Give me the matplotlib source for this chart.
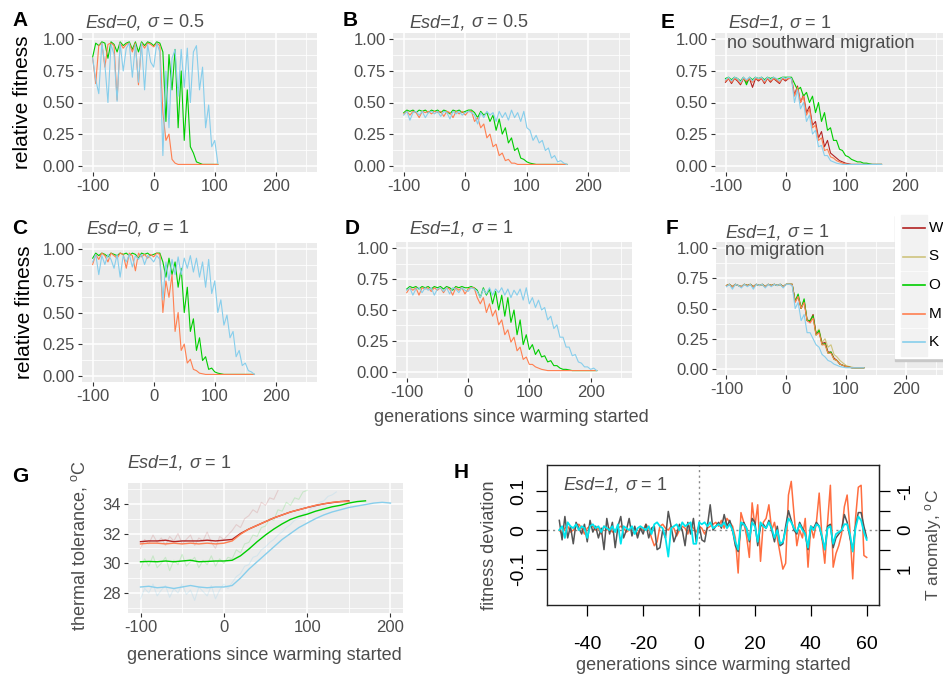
import numpy as np
import matplotlib
matplotlib.use("Agg")
import matplotlib.pyplot as plt
from matplotlib.patches import Rectangle

plt.rcParams["font.family"] = ["Liberation Sans", "DejaVu Sans"]
plt.rcParams["mathtext.fontset"] = "custom"
plt.rcParams["mathtext.rm"] = "Liberation Sans"
plt.rcParams["mathtext.it"] = "Liberation Sans:italic"
plt.rcParams["mathtext.bf"] = "Liberation Sans:bold"
plt.rcParams["axes.unicode_minus"] = False

# colours of the five populations
leg_labels = ["W", "S", "O", "M", "K"]
col_w = "#B22222"
col_s = "#CFC47E"
col_o = "#00CD00"
col_m = "#FF7F50"
col_k = "#87CEEB"
leg_colors = [col_w, col_s, col_o, col_m, col_k]

# ---------------- panel A (Esd=0, sigma=0.5), every 5 generations from -100
a_gen = np.arange(-100, 110, 5)
a_k = [0.85, 0.68, 0.57, 0.97, 0.80, 0.50, 0.96, 0.88, 0.51, 0.97,
       0.75, 0.93, 0.97, 0.70, 0.96, 0.66, 0.97, 0.60, 0.96, 0.82,
       0.78, 0.97, 0.90, 0.08, 0.75, 0.30, 0.85, 0.92, 0.55, 0.92,
       0.62, 0.93, 0.50, 0.90, 0.95, 0.60, 0.78, 0.30, 0.48, 0.15,
       0.20, 0.02]
a_o = [0.86, 0.97, 0.95, 0.98, 0.97, 0.85, 0.98, 0.96, 0.90, 0.98,
       0.95, 0.97, 0.98, 0.92, 0.98, 0.90, 0.98, 0.95, 0.98, 0.97,
       0.95, 0.98, 0.97, 0.90, 0.35, 0.88, 0.60, 0.92, 0.30, 0.75,
       0.20, 0.60, 0.15, 0.10, 0.03, 0.02, 0.01, 0.01, 0.01, 0.01,
       0.01, 0.01]
a_m = [0.85, 0.65, 0.95, 0.97, 0.78, 0.96, 0.97, 0.95, 0.52, 0.97,
       0.93, 0.96, 0.97, 0.90, 0.97, 0.64, 0.97, 0.93, 0.97, 0.96,
       0.94, 0.97, 0.95, 0.42, 0.20, 0.25, 0.05, 0.02, 0.01, 0.01,
       0.01, 0.01, 0.01, 0.01, 0.01, 0.01, 0.01, 0.01, 0.01, 0.01,
       0.01, 0.01]

# ---------------- panel B (Esd=1, sigma=0.5)
b_gen = np.arange(-100, 170, 5)
b_k = [0.40, 0.43, 0.36, 0.42, 0.43, 0.40, 0.43, 0.38, 0.42, 0.43,
       0.41, 0.43, 0.39, 0.43, 0.42, 0.37, 0.43, 0.41, 0.43, 0.40,
       0.42, 0.43, 0.42, 0.40, 0.33, 0.42, 0.38, 0.43, 0.40, 0.42,
       0.35, 0.43, 0.38, 0.42, 0.36, 0.44, 0.38, 0.42, 0.35, 0.43,
       0.30, 0.28, 0.20, 0.24, 0.18, 0.20, 0.12, 0.14, 0.06, 0.08,
       0.03, 0.04, 0.02, 0.01]
b_o = [0.42, 0.44, 0.43, 0.44, 0.42, 0.44, 0.43, 0.44, 0.42, 0.44,
       0.43, 0.44, 0.42, 0.44, 0.43, 0.41, 0.44, 0.43, 0.44, 0.42,
       0.43, 0.44, 0.44, 0.42, 0.38, 0.43, 0.40, 0.42, 0.35, 0.40,
       0.28, 0.37, 0.25, 0.30, 0.18, 0.22, 0.12, 0.14, 0.06, 0.05,
       0.03, 0.02, 0.015, 0.01, 0.01, 0.01, 0.01, 0.01, 0.01, 0.01,
       0.01, 0.01, 0.01, 0.01]
b_m = [0.41, 0.43, 0.40, 0.43, 0.42, 0.38, 0.43, 0.42, 0.43, 0.41,
       0.43, 0.42, 0.43, 0.39, 0.43, 0.42, 0.38, 0.43, 0.41, 0.43,
       0.40, 0.43, 0.43, 0.35, 0.38, 0.30, 0.33, 0.22, 0.25, 0.15,
       0.17, 0.08, 0.10, 0.04, 0.05, 0.02, 0.02, 0.01, 0.01, 0.01,
       0.01, 0.01, 0.01, 0.01, 0.01, 0.01, 0.01, 0.01, 0.01, 0.01,
       0.01, 0.01, 0.01, 0.01]

# ---------------- panel C (Esd=0, sigma=1)
c_gen = np.arange(-100, 170, 5)
c_k = [0.90, 0.96, 0.80, 0.95, 0.88, 0.96, 0.92, 0.85, 0.96, 0.78,
       0.95, 0.90, 0.96, 0.86, 0.95, 0.92, 0.96, 0.88, 0.95, 0.93,
       0.90, 0.95, 0.92, 0.60, 0.90, 0.75, 0.92, 0.80, 0.94, 0.80,
       0.93, 0.85, 0.95, 0.82, 0.93, 0.78, 0.90, 0.70, 0.92, 0.65,
       0.75, 0.50, 0.60, 0.40, 0.48, 0.30, 0.35, 0.15, 0.20, 0.08,
       0.10, 0.04, 0.03, 0.01]
c_o = [0.93, 0.97, 0.95, 0.97, 0.96, 0.94, 0.97, 0.96, 0.95, 0.97,
       0.96, 0.97, 0.95, 0.97, 0.96, 0.93, 0.97, 0.96, 0.97, 0.95,
       0.96, 0.97, 0.97, 0.90, 0.78, 0.93, 0.80, 0.90, 0.70, 0.85,
       0.50, 0.70, 0.35, 0.45, 0.20, 0.30, 0.12, 0.15, 0.05, 0.06,
       0.03, 0.02, 0.015, 0.01, 0.01, 0.01, 0.01, 0.01, 0.01, 0.01,
       0.01, 0.01, 0.01, 0.01]
c_m = [0.88, 0.96, 0.92, 0.97, 0.95, 0.90, 0.97, 0.95, 0.93, 0.97,
       0.96, 0.85, 0.97, 0.95, 0.83, 0.97, 0.94, 0.96, 0.93, 0.96,
       0.94, 0.97, 0.96, 0.50, 0.75, 0.62, 0.80, 0.35, 0.50, 0.20,
       0.25, 0.10, 0.13, 0.05, 0.04, 0.02, 0.015, 0.01, 0.01, 0.01,
       0.01, 0.01, 0.01, 0.01, 0.01, 0.01, 0.01, 0.01, 0.01, 0.01,
       0.01, 0.01, 0.01, 0.01]

# ---------------- panel D (Esd=1, sigma=1)
d_gen = np.arange(-100, 215, 5)
d_k = [0.66, 0.68, 0.62, 0.67, 0.68, 0.64, 0.68, 0.66, 0.68, 0.62,
       0.67, 0.68, 0.65, 0.68, 0.63, 0.68, 0.67, 0.64, 0.68, 0.66,
       0.65, 0.68, 0.67, 0.65, 0.60, 0.67, 0.63, 0.68, 0.62, 0.67,
       0.64, 0.68, 0.62, 0.67, 0.60, 0.66, 0.62, 0.67, 0.58, 0.68,
       0.55, 0.60, 0.52, 0.58, 0.50, 0.52, 0.42, 0.45, 0.35, 0.38,
       0.28, 0.28, 0.20, 0.20, 0.13, 0.14, 0.08, 0.07, 0.04, 0.04,
       0.02, 0.03, 0.01]
d_o = [0.67, 0.69, 0.68, 0.69, 0.67, 0.69, 0.68, 0.69, 0.67, 0.69,
       0.68, 0.69, 0.67, 0.69, 0.68, 0.66, 0.69, 0.68, 0.69, 0.68,
       0.68, 0.69, 0.68, 0.66, 0.60, 0.68, 0.62, 0.67, 0.55, 0.65,
       0.50, 0.62, 0.45, 0.60, 0.40, 0.50, 0.30, 0.42, 0.22, 0.30,
       0.18, 0.22, 0.14, 0.18, 0.12, 0.13, 0.08, 0.09, 0.05, 0.05,
       0.03, 0.02, 0.02, 0.015, 0.01, 0.01, 0.01, 0.01, 0.01, 0.01,
       0.01, 0.01, 0.01]
d_m = [0.64, 0.68, 0.66, 0.68, 0.62, 0.68, 0.67, 0.68, 0.65, 0.68,
       0.66, 0.68, 0.64, 0.68, 0.67, 0.62, 0.68, 0.66, 0.68, 0.63,
       0.67, 0.68, 0.68, 0.60, 0.55, 0.60, 0.48, 0.55, 0.45, 0.50,
       0.38, 0.42, 0.30, 0.34, 0.24, 0.28, 0.17, 0.20, 0.10, 0.12,
       0.06, 0.06, 0.04, 0.03, 0.02, 0.015, 0.01, 0.01, 0.01, 0.01,
       0.01, 0.01, 0.01, 0.01, 0.01, 0.01, 0.01, 0.01, 0.01, 0.01,
       0.01, 0.01, 0.01]

# ---------------- panel E (no southward migration)
e_gen = np.arange(-100, 165, 5)
e_k = [0.68, 0.70, 0.67, 0.70, 0.69, 0.66, 0.70, 0.68, 0.70, 0.67,
       0.70, 0.69, 0.70, 0.67, 0.70, 0.68, 0.70, 0.69, 0.67, 0.70,
       0.69, 0.70, 0.69, 0.50, 0.60, 0.45, 0.50, 0.35, 0.40, 0.25,
       0.28, 0.15, 0.16, 0.08, 0.08, 0.04, 0.03, 0.02, 0.015, 0.01,
       0.01, 0.01, 0.01, 0.01, 0.01, 0.01, 0.01, 0.01, 0.01, 0.01,
       0.01, 0.01, 0.01]
e_m = [0.67, 0.69, 0.66, 0.69, 0.68, 0.65, 0.69, 0.67, 0.69, 0.66,
       0.69, 0.68, 0.69, 0.66, 0.69, 0.67, 0.69, 0.68, 0.66, 0.69,
       0.68, 0.69, 0.69, 0.55, 0.62, 0.50, 0.55, 0.40, 0.45, 0.30,
       0.32, 0.20, 0.22, 0.12, 0.13, 0.07, 0.06, 0.04, 0.03, 0.02,
       0.015, 0.01, 0.01, 0.01, 0.01, 0.01, 0.01, 0.01, 0.01, 0.01,
       0.01, 0.01, 0.01]
e_w = [0.66, 0.69, 0.65, 0.69, 0.67, 0.64, 0.69, 0.66, 0.69, 0.62,
       0.69, 0.67, 0.69, 0.65, 0.69, 0.66, 0.69, 0.67, 0.65, 0.69,
       0.67, 0.69, 0.69, 0.56, 0.63, 0.50, 0.56, 0.42, 0.47, 0.32,
       0.35, 0.22, 0.27, 0.15, 0.20, 0.10, 0.08, 0.06, 0.04, 0.03,
       0.02, 0.015, 0.01, 0.01, 0.01, 0.01, 0.01, 0.01, 0.01, 0.01,
       0.01, 0.01, 0.01]
e_o = [0.69, 0.70, 0.68, 0.70, 0.69, 0.67, 0.70, 0.64, 0.70, 0.68,
       0.70, 0.69, 0.70, 0.68, 0.70, 0.69, 0.70, 0.68, 0.69, 0.70,
       0.70, 0.70, 0.70, 0.65, 0.60, 0.62, 0.55, 0.58, 0.50, 0.55,
       0.42, 0.50, 0.35, 0.42, 0.28, 0.30, 0.20, 0.20, 0.13, 0.12,
       0.08, 0.07, 0.05, 0.04, 0.03, 0.03, 0.02, 0.02, 0.015, 0.01,
       0.01, 0.01, 0.01]

# ---------------- panel F (no migration)
f_gen = np.arange(-100, 135, 5)
f_k = [0.68, 0.70, 0.66, 0.70, 0.69, 0.67, 0.70, 0.68, 0.70, 0.66,
       0.70, 0.69, 0.70, 0.67, 0.70, 0.68, 0.70, 0.69, 0.70, 0.67,
       0.70, 0.70, 0.69, 0.50, 0.55, 0.40, 0.45, 0.30, 0.30, 0.25,
       0.20, 0.18, 0.12, 0.10, 0.07, 0.06, 0.04, 0.03, 0.02, 0.015,
       0.01, 0.01, 0.01, 0.01, 0.01, 0.01, 0.01]
f_m = [0.69, 0.70, 0.68, 0.70, 0.69, 0.68, 0.70, 0.69, 0.70, 0.68,
       0.70, 0.69, 0.70, 0.68, 0.70, 0.69, 0.70, 0.69, 0.70, 0.68,
       0.70, 0.70, 0.70, 0.55, 0.60, 0.50, 0.55, 0.40, 0.38, 0.42,
       0.28, 0.30, 0.20, 0.20, 0.13, 0.13, 0.08, 0.07, 0.04, 0.03,
       0.02, 0.015, 0.01, 0.01, 0.01, 0.01, 0.01]
f_o = [0.69, 0.70, 0.68, 0.70, 0.69, 0.68, 0.70, 0.69, 0.70, 0.68,
       0.70, 0.69, 0.70, 0.68, 0.70, 0.69, 0.70, 0.69, 0.70, 0.68,
       0.70, 0.70, 0.70, 0.56, 0.62, 0.50, 0.58, 0.40, 0.40, 0.44,
       0.28, 0.32, 0.20, 0.21, 0.13, 0.14, 0.08, 0.07, 0.04, 0.03,
       0.02, 0.015, 0.01, 0.01, 0.01, 0.01, 0.01]
f_w = [0.69, 0.70, 0.68, 0.70, 0.69, 0.68, 0.70, 0.69, 0.70, 0.68,
       0.70, 0.69, 0.70, 0.68, 0.70, 0.69, 0.70, 0.69, 0.70, 0.68,
       0.70, 0.70, 0.70, 0.56, 0.60, 0.50, 0.56, 0.40, 0.39, 0.45,
       0.29, 0.31, 0.21, 0.22, 0.14, 0.14, 0.09, 0.07, 0.04, 0.03,
       0.02, 0.015, 0.01, 0.01, 0.01, 0.01, 0.01]
f_s = [0.69, 0.70, 0.68, 0.70, 0.69, 0.68, 0.70, 0.69, 0.70, 0.68,
       0.70, 0.69, 0.70, 0.68, 0.70, 0.69, 0.70, 0.69, 0.70, 0.68,
       0.70, 0.70, 0.70, 0.56, 0.61, 0.50, 0.57, 0.41, 0.40, 0.45,
       0.30, 0.33, 0.22, 0.25, 0.18, 0.20, 0.12, 0.10, 0.07, 0.05,
       0.03, 0.02, 0.015, 0.01, 0.01, 0.01, 0.01]

# ---------------- panel G (thermal tolerance), means every 10 generations
g_gen_w = np.arange(-100, 160, 10)
g_w = [31.45, 31.5, 31.5, 31.55, 31.45, 31.5, 31.5, 31.5, 31.55, 31.5,
       31.55, 31.6, 32.0, 32.3, 32.55, 32.8, 33.05, 33.25, 33.45, 33.6,
       33.75, 33.88, 34.0, 34.08, 34.15, 34.2]
g_m = [31.3, 31.35, 31.35, 31.3, 31.35, 31.3, 31.35, 31.3, 31.35, 31.3,
       31.35, 31.5, 31.95, 32.3, 32.55, 32.8, 33.05, 33.25, 33.45, 33.6,
       33.75, 33.9, 34.0, 34.1, 34.15, 34.15]
g_gen_o = np.arange(-100, 180, 10)
g_o = [30.1, 30.12, 30.1, 30.15, 30.1, 30.15, 30.2, 30.1, 30.12, 30.15,
       30.15, 30.2, 30.5, 30.95, 31.45, 31.9, 32.3, 32.65, 32.95, 33.15,
       33.3, 33.5, 33.65, 33.8, 33.9, 34.05, 34.15, 34.2]
g_gen_k = np.arange(-100, 210, 10)
g_k = [28.4, 28.45, 28.35, 28.4, 28.3, 28.4, 28.5, 28.4, 28.35, 28.4,
       28.4, 28.5, 29.0, 29.6, 30.1, 30.6, 31.1, 31.6, 32.0, 32.4,
       32.7, 33.0, 33.25, 33.45, 33.6, 33.75, 33.85, 33.95, 34.05, 34.1,
       34.05]
# faint single runs, every 5 generations
g_gen_fw = np.arange(-100, 70, 5)
g_fw = [31.0, 31.6, 31.3, 31.9, 31.4, 31.7, 31.2, 31.8, 31.5, 32.0,
        31.3, 31.6, 31.9, 31.2, 31.7, 31.5, 32.1, 31.4, 31.0, 31.8,
        31.6, 31.9, 32.2, 32.6, 32.4, 33.0, 33.2, 33.6, 33.4, 34.1,
        33.9, 34.4, 34.3, 34.9]
g_gen_fo = np.arange(-100, 105, 5)
g_fo = [29.6, 30.3, 29.8, 30.5, 29.7, 30.0, 30.4, 29.5, 30.2, 29.9,
        30.6, 29.8, 30.1, 30.4, 29.7, 30.2, 29.9, 30.5, 29.8, 30.3,
        30.0, 30.4, 30.3, 30.9, 30.7, 31.3, 31.4, 31.9, 31.8, 32.4,
        32.5, 33.0, 32.9, 33.6, 33.5, 34.1, 33.9, 34.4, 34.3, 34.8,
        34.9]
g_gen_fk = np.arange(-100, 140, 5)
g_fk = [27.6, 28.3, 28.0, 28.6, 27.8, 28.2, 28.5, 27.7, 28.3, 28.0,
        28.6, 27.9, 28.2, 27.5, 28.4, 28.1, 27.8, 28.5, 27.6, 28.2,
        28.6, 28.3, 28.7, 29.1, 29.3, 29.8, 29.9, 30.4, 30.5, 30.9,
        31.1, 31.4, 31.6, 31.9, 32.1, 32.4, 32.6, 32.9, 33.0, 33.3,
        33.4, 33.7, 33.8, 34.1, 34.2, 34.5, 34.6, 34.8]

# ---------------- panel H (deviations, every generation from -50 to 60)
h_gen = np.arange(-50, 61)
h_ticks = [-40, -20, 0, 20, 40, 60]
h_t = [0.025, -0.025, 0.035, -0.02, 0.01, -0.035, 0.02, 0.005, -0.01, 0.015,
       -0.03, 0.025, -0.005, 0.01, -0.02, 0.005, -0.05, 0.03, -0.01, 0.02,
       -0.045, 0.01, 0.035, -0.02, 0.0, 0.03, -0.015, 0.01, -0.02, 0.005,
       -0.01, 0.015, -0.02, 0.005, 0.01, -0.05, -0.045, 0.0, -0.02, 0.048,
       0.01, -0.03, -0.01, 0.015, 0.0, -0.04, 0.02, -0.01, 0.03, -0.03,
       0.015, -0.025, -0.03, 0.01, 0.065, 0.0, 0.01, 0.02, 0.005, 0.04,
       0.01, 0.025, 0.0, -0.04, -0.055, 0.01, 0.02, 0.005, -0.03, 0.03,
       0.02, -0.04, 0.01, 0.015, 0.005, 0.025, 0.0, -0.03, 0.01, -0.04,
       -0.035, 0.01, 0.05, 0.025, 0.0, -0.01, 0.02, 0.005, -0.01, -0.05,
       0.01, 0.005, 0.02, 0.01, -0.02, -0.05, 0.01, 0.015, -0.045, -0.02,
       -0.01, 0.0, 0.04, 0.02, -0.02, -0.05, 0.01, 0.045, 0.045, 0.01,
       -0.02]
h_o = [0.0, -0.01, 0.005, 0.01, -0.005, 0.0, 0.01, 0.015, 0.005, -0.01,
       0.005, 0.01, 0.01, 0.0, 0.005, -0.01, 0.01, 0.0, 0.005, -0.005,
       0.0, 0.005, 0.01, 0.005, -0.005, 0.0, 0.005, 0.0, -0.01, 0.005,
       0.0, 0.015, 0.005, -0.02, -0.04, -0.03, 0.01, 0.015, 0.005, 0.0,
       0.01, 0.005, -0.015, 0.0, 0.01, 0.005, -0.01, 0.015, 0.005, -0.005,
       0.01, 0.005, -0.01, 0.005, 0.01, 0.015, 0.02, 0.01, 0.025, 0.005,
       0.03, 0.02, 0.01, -0.02, -0.11, 0.045, 0.02, -0.015, -0.07, 0.07,
       0.01, 0.065, -0.08, 0.02, 0.03, 0.065, 0.0, 0.02, -0.02, -0.06,
       -0.1, -0.085, 0.09, 0.125, 0.04, -0.04, 0.0, -0.02, 0.03, -0.095,
       0.01, -0.02, 0.02, 0.095, -0.02, -0.085, 0.02, 0.115, -0.095, -0.06,
       -0.04, -0.01, 0.06, 0.09, 0.0, -0.125, 0.03, 0.11, 0.115, -0.065,
       -0.07]
h_k = [0.0, 0.01, -0.02, 0.02, 0.01, 0.005, 0.015, 0.0, 0.01, 0.005,
       -0.02, 0.01, 0.015, 0.005, 0.01, -0.005, 0.01, 0.005, 0.0, 0.01,
       -0.005, 0.015, -0.035, 0.01, 0.005, 0.0, 0.01, -0.01, 0.005, 0.01,
       0.005, 0.0, 0.01, -0.01, 0.015, 0.02, 0.01, 0.005, -0.02, -0.068,
       0.005, 0.01, 0.015, 0.0, 0.02, 0.01, 0.015, 0.02, -0.035, -0.035,
       0.02, 0.015, 0.02, 0.01, 0.02, 0.005, 0.01, 0.015, 0.01, 0.02,
       0.005, 0.015, 0.0, -0.03, -0.05, 0.02, 0.015, 0.005, -0.025, 0.02,
       0.01, -0.03, 0.02, 0.01, 0.005, 0.02, 0.005, -0.02, 0.0, -0.035,
       -0.03, 0.0, 0.03, 0.02, 0.005, -0.005, 0.015, 0.0, -0.01, -0.045,
       0.01, 0.0, 0.015, 0.01, -0.015, -0.05, 0.005, 0.01, -0.035, -0.01,
       -0.005, 0.0, 0.015, 0.015, -0.01, -0.055, 0.005, 0.035, 0.025, -0.005,
       -0.025]

W, H = 943, 677
fig = plt.figure(figsize=(W / 100, H / 100), dpi=100)
renderer = fig.canvas.get_renderer()
TXT = "#4D4D4D"


def rect(x0, y0, x1, y1):
    return [x0 / W, 1 - y1 / H, (x1 - x0) / W, (y1 - y0) / H]


def ftext(px, py, s, **kw):
    kw.setdefault("va", "center")
    return fig.text(px / W, 1 - py / H, s, **kw)


def esd_title(px, py, esd, sigma, size=13):
    # italic "Esd=x," followed by "σ = y"
    t = ftext(px, py, "Esd=%s," % esd, fontsize=size, color=TXT, ha="left",
              style="italic", va="baseline")
    bb = t.get_window_extent(renderer)
    fig.text(bb.x1 / W, 1 - py / H, r" $\sigma$ = %s" % sigma, fontsize=size,
             color=TXT, ha="left", va="baseline")


def gg_style(ax):
    ax.set_facecolor("#EBEBEB")
    for sp in ax.spines.values():
        sp.set_visible(False)
    ax.grid(which="major", color="white", lw=1.1)
    ax.grid(which="minor", color="white", lw=0.55)
    ax.set_axisbelow(True)
    ax.tick_params(which="minor", length=0)
    ax.tick_params(which="major", length=3.2, width=0.8, color="#333333",
                   labelsize=12, labelcolor=TXT, pad=2)


def fitness_panel(box, gens, series):
    ax = fig.add_axes(rect(*box))
    gg_style(ax)
    ax.set_xlim(-117.5, 267.5)
    ax.set_ylim(-0.05, 1.05)
    ax.set_xticks([-100, 0, 100, 200])
    ax.set_xticks([-50, 50, 150, 250], minor=True)
    ax.set_yticks([0, 0.25, 0.5, 0.75, 1.0])
    ax.set_yticklabels(["0.00", "0.25", "0.50", "0.75", "1.00"])
    ax.set_yticks([0.125, 0.375, 0.625, 0.875], minor=True)
    for vals, c in series:
        ax.plot(gens, vals, color=c, lw=0.8)
    return ax


fitness_panel((82, 33, 317, 172), a_gen, [(a_o, col_o), (a_m, col_m), (a_k, col_k)])
fitness_panel((393, 33, 630, 172), b_gen, [(b_o, col_o), (b_m, col_m), (b_k, col_k)])
fitness_panel((715, 33, 946, 172), e_gen,
              [(e_w, col_w), (e_o, col_o), (e_m, col_m), (e_k, col_k)])
fitness_panel((82, 243, 317, 382), c_gen, [(c_o, col_o), (c_m, col_m), (c_k, col_k)])
fitness_panel((396, 242, 632, 378), d_gen, [(d_o, col_o), (d_m, col_m), (d_k, col_k)])
fitness_panel((716, 242, 946, 375), f_gen,
              [(f_s, col_s), (f_w, col_w), (f_o, col_o), (f_m, col_m), (f_k, col_k)])

# titles and labels of the fitness panels
note_kw = dict(fontsize=13, color=TXT, ha="left")
esd_title(85, 27, "0", "0.5")
esd_title(409, 27, "1", "0.5")
esd_title(728, 28, "1", "1")
ftext(727, 43, "no southward migration", **note_kw)
esd_title(86, 233, "0", "1")
esd_title(409, 233, "1", "1")
esd_title(725, 237, "1", "1")
ftext(725, 251, "no migration", **note_kw)

ftext(23, 102, "relative fitness", fontsize=15, rotation=90, ha="center")
ftext(25, 312, "relative fitness", fontsize=15, rotation=90, ha="center")
ftext(511, 418, "generations since warming started", fontsize=13, color=TXT, ha="center")

letter_kw = dict(fontsize=15, fontweight="bold", ha="center")
for letter, px, py in [("A", 20, 20), ("B", 350, 20), ("E", 668, 23),
                       ("C", 20, 228), ("D", 352, 228), ("F", 672, 228),
                       ("G", 20, 476), ("H", 461, 472)]:
    ftext(px, py, letter, **letter_kw)

# legend (partly cut by the right edge), drawn in pixel units
lax = fig.add_axes(rect(893, 211, 1015, 363))
lax.set_zorder(10)
lax.set_xlim(893, 1015)
lax.set_ylim(363, 211)
lax.axis("off")
lax.add_patch(Rectangle((895, 216), 120, 145, color="#C8C8C8", zorder=0))
lax.add_patch(Rectangle((895, 213), 120, 145, color="white", zorder=1))
for i, (lab, c) in enumerate(zip(leg_labels, leg_colors)):
    yc = 228 + i * 28.5
    lax.add_patch(Rectangle((901, yc - 13.5), 26, 27, color="#F2F2F2", zorder=2))
    lax.plot([903, 925], [yc, yc], color=c, lw=1.2, zorder=3)
    lax.text(928.5, yc, lab, fontsize=11, va="center", ha="left", zorder=4)

# ---------------- panel G
axg = fig.add_axes(rect(128, 483, 403, 613))
gg_style(axg)
axg.set_xlim(-115, 215)
axg.set_ylim(26.65, 35.4)
axg.set_xticks([-100, 0, 100, 200])
axg.set_xticks([-50, 50, 150], minor=True)
axg.set_yticks([28, 30, 32, 34])
axg.set_yticks([27, 29, 31, 33, 35], minor=True)
axg.plot(g_gen_fw, g_fw, color=col_w, lw=0.8, alpha=0.15)
axg.plot(g_gen_fo, g_fo, color=col_o, lw=0.8, alpha=0.15)
axg.plot(g_gen_fk, g_fk, color=col_k, lw=0.8, alpha=0.22)
axg.plot(g_gen_w, g_w, color=col_w, lw=1.0)
axg.plot(g_gen_o, g_o, color=col_o, lw=1.0)
axg.plot(g_gen_w, g_m, color=col_m, lw=1.0)
axg.plot(g_gen_k, g_k, color=col_k, lw=1.0)
esd_title(127, 468, "1", "1")
ftext(79, 546, r"thermal tolerance, $^{\rm o}$C", fontsize=13, color=TXT,
      rotation=90, ha="center")
ftext(264, 655, "generations since warming started", fontsize=13, color=TXT, ha="center")

# ---------------- panel H (base-graphics look)
axh = fig.add_axes(rect(547, 465, 879, 605))
axh.set_xlim(-54.4, 64.4)
axh.set_ylim(-0.192, 0.167)
axh.axhline(0, color="#888888", lw=1, ls=(0, (1.5, 2.5)))
axh.axvline(0, color="#888888", lw=1, ls=(0, (1.5, 2.5)))
axh.plot(h_gen, h_o, color="#FF6E40", lw=1.1)
axh.plot(h_gen, h_t, color="#555555", lw=1.1)
axh.plot(h_gen, h_k, color="#00E5EE", lw=1.3)
for sp in axh.spines.values():
    sp.set_color("#222222")
    sp.set_linewidth(1.0)
# x tick labels sit one text line below the long ticks (R style)
axh.set_xticks(h_ticks)
axh.set_xticklabels([str(v) for v in h_ticks])
axh.tick_params(axis="x", direction="out", length=8, width=0.9,
                labelsize=14, pad=14)
axh.set_yticks([-0.1, -0.05, 0, 0.05, 0.1])
axh.set_yticklabels(["-0.1", "", "0", "", "0.1"], rotation=90, va="center")
axh.tick_params(axis="y", direction="out", length=8, width=0.9, labelsize=14, pad=6)
sec = axh.secondary_yaxis("right", functions=(lambda y: -10 * y, lambda t: -t / 10))
sec.set_yticks([-1, -0.5, 0, 0.5, 1])
sec.set_yticklabels(["-1", "", "0", "", "1"], rotation=90, va="center")
sec.tick_params(length=8, width=0.9, labelsize=13.5, pad=5)
sec.spines["right"].set_color("#222222")
esd_title(563, 490, "1", "1")
ftext(489, 545, "fitness deviation", fontsize=13, color=TXT, rotation=90, ha="center")
ftext(933, 545, r"T anomaly, $^{\rm o}$C", fontsize=12.5, color=TXT, rotation=90, ha="center")
ftext(713, 665, "generations since warming started", fontsize=13, color=TXT, ha="center")

fig.savefig("out.png", dpi=100)
